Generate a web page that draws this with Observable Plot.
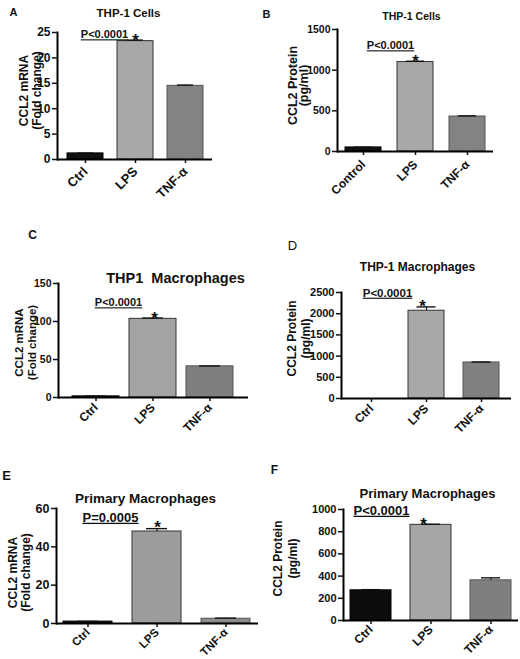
<!DOCTYPE html>
<html><head><meta charset="utf-8">
<script src="https://cdn.jsdelivr.net/npm/d3@7"></script>
<script src="https://cdn.jsdelivr.net/npm/@observablehq/plot@0.6"></script>
<style>
body{margin:0;background:#fff;}
#fig{position:relative;width:520px;height:659px;overflow:hidden;background:#fff;}
#fig svg{position:absolute;}
</style></head><body><div id="fig"></div>
<script>
// ---- data ----
const categoriesA = ["Ctrl", "LPS", "TNF-α"];
const categoriesB = ["Control", "LPS", "TNF-α"];
const categoriesC = ["Ctrl", "LPS", "TNF-α"];
const categoriesD = ["Ctrl", "LPS", "TNF-α"];
const categoriesE = ["Ctrl", "LPS", "TNF-α"];
const categoriesF = ["Ctrl", "LPS", "TNF-α"];
const meansA = [1.2, 23.3, 14.5];
const errorsA = [0.05, 0.2, 0.15];
const meansB = [50, 1100, 430];
const errorsB = [3, 10, 8];
const meansC = [1.5, 103.5, 41];
const errorsC = [0.3, 1, 0.5];
const meansD = [0, 2070, 850];
const errorsD = [0, 90, 10];
const meansE = [1, 48, 2.5];
const errorsE = [0.1, 1.5, 0.3];
const meansF = [272, 862, 362];
const errorsF = [6, 5, 22];
const yTicksA = [0, 5, 10, 15, 20, 25];
const yTicksB = [0, 500, 1000, 1500];
const yTicksC = [0, 50, 100, 150];
const yTicksD = [0, 500, 1000, 1500, 2000, 2500];
const yTicksE = [0, 20, 40, 60];
const yTicksF = [0, 200, 400, 600, 800, 1000];
const panelLetters = ["A", "B", "C", "D", "E", "F"];
const panelTitles = ["THP-1 Cells", "THP-1 Cells", "THP1  Macrophages", "THP-1 Macrophages", "Primary Macrophages", "Primary Macrophages"];
const pValues = ["P<0.0001", "P<0.0001", "P<0.0001", "P<0.0001", "P=0.0005", "P<0.0001"];
const yAxisLabels = ["CCL2 mRNA\n(Fold change)", "CCL2 Protein\n(pg/ml)", "CCL2 mRNA\n(Fold change)", "CCL2 Protein\n(pg/ml)", "CCL2 mRNA\n(Fold change)", "CCL2 Protein\n(pg/ml)"];

const categories = [categoriesA, categoriesB, categoriesC, categoriesD, categoriesE, categoriesF];
const means = [meansA, meansB, meansC, meansD, meansE, meansF];
const errors = [errorsA, errorsB, errorsC, errorsD, errorsE, errorsF];
const yTicks = [yTicksA, yTicksB, yTicksC, yTicksD, yTicksE, yTicksF];

// ---- layout / style ----
const FONT = "'Liberation Sans', Arial, sans-serif";
// ylab: [centerX, centerY, fontSize, lineSpacing]
const layouts = [
  {left:0, top:0, w:260, h:210, ml:57, mr:48, mt:32, mb:51, pi:.287, po:.18, tick:12, xtick:13, xpad:6, cap:16,
   letter:[13,8,11,"bold"], title:[128,8,11.5], pval:[104,30,11], star:[135,33], ylab:[25,90,12,13],
   fills:["#111","#a8a8a8","#838383"], strokes:["#000","#333","#555"]},
  {left:260, top:0, w:260, h:210, ml:77, mr:27, mt:29, mb:59, pi:.31, po:.155, tick:10.5, xtick:12, xpad:7, cap:18,
   letter:[266,10,11,"bold"], title:[411,12,10.5], pval:[390,41,11], star:[415,54], ylab:[293,85,12.5,11],
   fills:["#111","#a8a8a8","#838383"], strokes:["#000","#333","#555"]},
  {left:0, top:215, w:260, h:210, ml:58, mr:12, mt:68, mb:28, pi:.17, po:.223, tick:10.5, xtick:12, xpad:4, cap:22,
   letter:[32,230,12,"bold"], title:[175,272,14.5], pval:[118,298,11], star:[154,311], ylab:[21,342,11.5,13],
   fills:["#111","#a3a3a3","#7f7f7f"], strokes:["#000","#333","#555"]},
  {left:260, top:215, w:260, h:210, ml:81, mr:9, mt:77, mb:27, pi:.34, po:.188, tick:11, xtick:12, xpad:4, cap:20,
   letter:[292,240,13,"normal"], title:[417,262,12], pval:[387,288,11.5], star:[422,299], ylab:[294,338,12,14],
   fills:["#111","#a8a8a8","#808080"], strokes:["#000","#333","#555"]},
  {left:0, top:440, w:260, h:219, ml:56, mr:2, mt:68, mb:36, pi:.286, po:.086, tick:12.5, xtick:11.5, xpad:3, cap:22,
   letter:[6,470,13,"bold"], title:[145,493,13.5], pval:[110,512,13], star:[157,520], ylab:[14,572,12,13],
   fills:["#111","#9c9c9c","#8b8b8b"], strokes:["#000","#333","#555"]},
  {left:260, top:440, w:260, h:219, ml:83, mr:2, mt:69, mb:39, pi:.31, po:.09, tick:11, xtick:12, xpad:3, cap:20,
   letter:[274,465,12,"bold"], title:[427,488,13], pval:[381,505,13], star:[423,517], ylab:[280,558,12,15],
   fills:["#0d0d0d","#a6a6a6","#7f7f7f"], strokes:["#000","#333","#555"]}
];

const fig = document.getElementById("fig");

layouts.forEach((L, i) => {
  const rows = categories[i].map((g, j) => ({g, v: means[i][j], e: errors[i][j], fill: L.fills[j], stroke: L.strokes[j]}));
  const errRows = rows.filter(d => d.e > 0);
  const innerW = L.w - L.ml - L.mr;
  const step = innerW / (3 - L.pi + 2 * L.po);
  const bw = step * (1 - L.pi);
  const capInset = Math.max(0, (bw - L.cap) / 2);
  const ox = L.left + L.ml, oy = L.top + L.mt;
  const note = (txt, ax, ay, o) => Plot.text([txt], {frameAnchor: "top-left", text: d => d, dx: ax - ox, dy: ay - oy, fontFamily: FONT, fill: "#111", ...o});
  const yMax = yTicks[i][yTicks[i].length - 1];
  const labLines = yAxisLabels[i].split("\n");
  const labMarks = labLines.map((line, k) => note(line, L.ylab[0] + (k - (labLines.length - 1) / 2) * L.ylab[3], L.ylab[1],
    {fontSize: L.ylab[2], fontWeight: "bold", textAnchor: "middle", rotate: -90}));
  const plot = Plot.plot({
    width: L.w, height: L.h,
    marginLeft: L.ml, marginRight: L.mr, marginTop: L.mt, marginBottom: L.mb,
    style: {background: "transparent", overflow: "visible", fontFamily: FONT, fontWeight: "bold", fontSize: L.tick + "px", color: "#111"},
    x: {domain: categories[i], paddingInner: L.pi, paddingOuter: L.po, label: null},
    y: {domain: [0, yMax], label: null},
    color: {type: "identity"},
    marks: [
      Plot.barY(rows, {x: "g", y: "v", fill: d => d.fill, stroke: d => d.stroke, strokeWidth: 1}),
      Plot.ruleX(errRows, {x: "g", y1: "v", y2: d => d.v + d.e, stroke: "#111", strokeWidth: 1.2}),
      Plot.tickY(errRows, {x: "g", y: d => d.v + d.e, stroke: "#111", strokeWidth: 1.4, insetLeft: capInset, insetRight: capInset}),
      Plot.ruleY([0], {stroke: "#000", strokeWidth: 2}),
      Plot.frame({anchor: "left", stroke: "#000", strokeWidth: 2}),
      Plot.axisY({ticks: yTicks[i], tickFormat: d => String(d), tickSize: 5, tickPadding: 2, strokeWidth: 1.5, fontSize: L.tick, fontWeight: "bold", label: null}),
      Plot.axisX({tickRotate: -45, tickSize: 4, tickPadding: L.xpad, strokeWidth: 1.5, fontSize: L.xtick, fontWeight: "bold", label: null}),
      note(panelLetters[i], L.letter[0], L.letter[1], {fontSize: L.letter[2], fontWeight: L.letter[3], textAnchor: "middle"}),
      note(panelTitles[i], L.title[0], L.title[1], {fontSize: L.title[2], fontWeight: "bold", textAnchor: "middle"}),
      note(pValues[i], L.pval[0], L.pval[1], {fontSize: L.pval[2], fontWeight: "bold", textAnchor: "middle"}),
      note("*", L.star[0], L.star[1], {fontSize: 17, fontWeight: "bold", textAnchor: "middle"}),
      ...labMarks
    ]
  });
  plot.style.left = L.left + "px";
  plot.style.top = L.top + "px";
  plot.querySelectorAll("text").forEach(t => {
    if (/^P[<=]/.test(t.textContent)) t.style.textDecoration = "underline";
    if (t.textContent.includes("  ")) t.style.whiteSpace = "pre";
  });
  fig.appendChild(plot);
});
</script></body></html>
